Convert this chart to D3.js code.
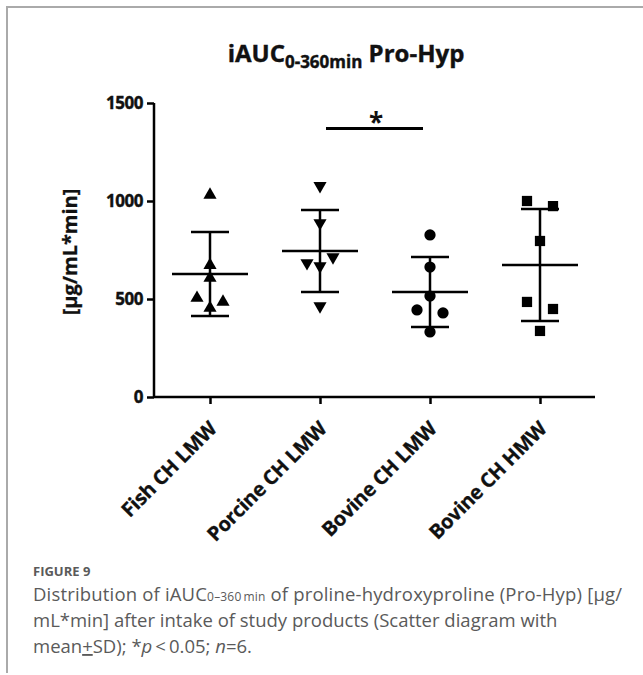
<!DOCTYPE html>
<html>
<head>
<meta charset="utf-8">
<script src="https://cdn.jsdelivr.net/npm/d3@7"></script>
<style>
	body { margin: 0; background: #fff; }
	svg { display: block; }
	.chart-text { font-family: "Open Sans", sans-serif; font-weight: bold; fill: #111; }
	.caption { font-family: "Open Sans", sans-serif; fill: #5a5a5a; }
</style>
</head>
<body>
<svg id="viz" width="643" height="675"></svg>
<script>

// Categories (groups on the x axis)
var groups = [ 'Fish CH LMW', 'Porcine CH LMW', 'Bovine CH LMW', 'Bovine CH HMW' ];

// Individual values per group
var fishValues = [ 1031, 673, 607, 505, 485, 454 ];
var porcineValues = [ 1077, 888, 684, 714, 668, 464 ];
var bovineLmwValues = [ 827, 663, 515, 444, 429, 332 ];
var bovineHmwValues = [ 1000, 974, 796, 485, 449, 337 ];

// Which side each point is nudged to (-1 left, 0 centre, 1 right)
var fishSlots = [ 0, 0, 0, -1, 1, 0 ];
var porcineSlots = [ 0, 0, -1, 1, 0, 0 ];
var bovineLmwSlots = [ 0, 0, 0, -1, 1, 0 ];
var bovineHmwSlots = [ -1, 1, 0, -1, 1, 0 ];

// Mean and SD, as drawn
var means = [ 627, 745, 536, 673 ];
var sdUpper = [ 842, 954, 714, 959 ];
var sdLower = [ 413, 536, 357, 388 ];

var yTicks = [ 0, 500, 1000, 1500 ];

var svg = d3.select( '#viz' );

// Figure frame (grey border on top and left)
svg.append( 'line' ).attr( 'x1', 6 ).attr( 'x2', 643 ).attr( 'y1', 7 ).attr( 'y2', 7 )
	.attr( 'stroke', '#aaa' ).attr( 'stroke-width', 2 );
svg.append( 'line' ).attr( 'x1', 7 ).attr( 'x2', 7 ).attr( 'y1', 6 ).attr( 'y2', 673 )
	.attr( 'stroke', '#aaa' ).attr( 'stroke-width', 2 );

var plot = { left: 154, right: 595, top: 103, bottom: 397 };

var y = d3.scaleLinear().domain( [ 0, 1500 ] ).range( [ plot.bottom, plot.top ] );
var x = d3.scalePoint().domain( groups ).range( [ 210, 540 ] );

// Y axis
var yAxis = svg.append( 'g' )
	.attr( 'transform', 'translate(' + plot.left + ',0)' )
	.call( d3.axisLeft( y ).tickValues( yTicks ).tickSize( 7 ).tickPadding( 4 ).tickFormat( d3.format( 'd' ) ) );
yAxis.select( '.domain' ).attr( 'stroke-width', 2.5 ).attr( 'd', 'M0,' + plot.top + 'V' + plot.bottom );
yAxis.selectAll( '.tick line' ).attr( 'stroke-width', 2.5 );
yAxis.selectAll( 'text' ).attr( 'class', 'chart-text' ).style( 'font-size', '17px' )
	.style( 'letter-spacing', '-0.5px' ).attr( 'fill', null ).attr( 'stroke', '#111' ).attr( 'stroke-width', 0.4 );

// X axis
var xAxis = svg.append( 'g' )
	.attr( 'transform', 'translate(0,' + plot.bottom + ')' )
	.call( d3.axisBottom( x ).tickSize( 7 ).tickFormat( '' ) );
xAxis.select( '.domain' ).attr( 'stroke-width', 2.5 ).attr( 'd', 'M' + plot.left + ',0H' + plot.right );
xAxis.selectAll( '.tick line' ).attr( 'stroke-width', 2.5 );

// Rotated category labels
svg.selectAll( 'text.xlabel' )
	.data( groups )
	.enter()
	.append( 'text' )
	.attr( 'class', 'chart-text xlabel' )
	.style( 'font-size', '20px' )
	.style( 'letter-spacing', '-0.3px' )
	.attr( 'stroke', '#111' ).attr( 'stroke-width', 0.3 )
	.attr( 'text-anchor', 'end' )
	.attr( 'transform', function ( d ) {
		return 'translate(' + ( x( d ) + 8 ) + ',' + ( plot.bottom + 33 ) + ') rotate(-45)';
	} )
	.text( function ( d ) { return d; } );

// Y axis title
svg.append( 'text' )
	.attr( 'class', 'chart-text' )
	.style( 'font-size', '20px' )
	.attr( 'stroke', '#111' ).attr( 'stroke-width', 0.3 )
	.attr( 'text-anchor', 'middle' )
	.attr( 'transform', 'translate(77,252) rotate(-90)' )
	.text( '[µg/mL*min]' );

// Chart title with subscript
var title = svg.append( 'text' )
	.attr( 'class', 'chart-text' )
	.attr( 'x', 346 )
	.attr( 'y', 62 )
	.attr( 'text-anchor', 'middle' )
	.attr( 'stroke', '#111' ).attr( 'stroke-width', 0.4 )
	.style( 'font-size', '24px' );
title.append( 'tspan' ).text( 'iAUC' );
title.append( 'tspan' ).attr( 'dy', 6 ).style( 'font-size', '17px' ).text( '0-360min' );
title.append( 'tspan' ).attr( 'dy', -6 ).text( ' Pro-Hyp' );

// Points
var allValues = [ fishValues, porcineValues, bovineLmwValues, bovineHmwValues ];
var allSlots = [ fishSlots, porcineSlots, bovineLmwSlots, bovineHmwSlots ];
var shapes = [
	{ type: d3.symbolTriangle, size: 75, rotate: 0 },
	{ type: d3.symbolTriangle, size: 75, rotate: 180 },
	{ type: d3.symbolCircle, size: 100, rotate: 0 },
	{ type: d3.symbolSquare, size: 105, rotate: 0 }
];
var slotWidth = 13;

groups.forEach( function ( g, gi ) {

	var shape = shapes[gi];
	var points = allValues[gi].map( function ( v, i ) {
		return { value: v, slot: allSlots[gi][i] };
	} );

	svg.selectAll( 'path.pt-' + gi )
		.data( points )
		.enter()
		.append( 'path' )
		.attr( 'class', 'pt-' + gi )
		.attr( 'd', d3.symbol().type( shape.type ).size( shape.size ) )
		.attr( 'fill', '#000' )
		.attr( 'transform', function ( d ) {
			return 'translate(' + ( x( g ) + d.slot * slotWidth ) + ',' + y( d.value ) + ') rotate(' + shape.rotate + ')';
		} );

	var cx = x( g );
	var bar = svg.append( 'g' ).attr( 'stroke', '#000' ).attr( 'stroke-width', 2.5 );

	// vertical SD whisker
	bar.append( 'line' ).attr( 'x1', cx ).attr( 'x2', cx ).attr( 'y1', y( sdUpper[gi] ) ).attr( 'y2', y( sdLower[gi] ) );
	// SD caps
	bar.append( 'line' ).attr( 'x1', cx - 19 ).attr( 'x2', cx + 19 ).attr( 'y1', y( sdUpper[gi] ) ).attr( 'y2', y( sdUpper[gi] ) );
	bar.append( 'line' ).attr( 'x1', cx - 19 ).attr( 'x2', cx + 19 ).attr( 'y1', y( sdLower[gi] ) ).attr( 'y2', y( sdLower[gi] ) );
	// mean line
	bar.append( 'line' ).attr( 'x1', cx - 38 ).attr( 'x2', cx + 38 ).attr( 'y1', y( means[gi] ) ).attr( 'y2', y( means[gi] ) );

} );

// Significance bracket between Porcine and Bovine LMW
var sigY = y( 1370 );
svg.append( 'line' )
	.attr( 'x1', x( groups[1] ) + 6 ).attr( 'x2', x( groups[2] ) - 7 )
	.attr( 'y1', sigY ).attr( 'y2', sigY )
	.attr( 'stroke', '#000' ).attr( 'stroke-width', 3 );
svg.append( 'text' )
	.attr( 'class', 'chart-text' )
	.attr( 'x', ( x( groups[1] ) + x( groups[2] ) ) / 2 + 1 )
	.attr( 'y', sigY + 4 )
	.attr( 'text-anchor', 'middle' )
	.style( 'font-size', '26px' )
	.text( '*' );

// Caption
svg.append( 'text' )
	.attr( 'class', 'caption' )
	.attr( 'x', 33 ).attr( 'y', 576 )
	.style( 'font-size', '13px' ).style( 'font-weight', 'bold' ).attr( 'fill', '#8c8c8c' )
	.text( 'FIGURE 9' );

var cap1 = svg.append( 'text' ).attr( 'class', 'caption' ).attr( 'x', 33 ).attr( 'y', 601 )
	.style( 'font-size', '18.5px' ).attr( 'textLength', 589 );
cap1.append( 'tspan' ).text( 'Distribution of iAUC' );
cap1.append( 'tspan' ).style( 'font-size', '12px' ).text( '0\u2013360\u2009min' );
cap1.append( 'tspan' ).text( ' of proline-hydroxyproline (Pro-Hyp) [µg/' );

svg.append( 'text' ).attr( 'class', 'caption' ).attr( 'x', 33 ).attr( 'y', 627 ).style( 'font-size', '18.5px' )
	.text( 'mL*min] after intake of study products (Scatter diagram with' );

var cap3 = svg.append( 'text' ).attr( 'class', 'caption' ).attr( 'x', 33 ).attr( 'y', 653 ).style( 'font-size', '18.5px' );
cap3.append( 'tspan' ).text( 'mean' );
cap3.append( 'tspan' ).style( 'text-decoration', 'underline' ).text( '+' );
cap3.append( 'tspan' ).text( 'SD); *' );
cap3.append( 'tspan' ).style( 'font-style', 'italic' ).text( 'p' );
cap3.append( 'tspan' ).text( '\u2009<\u20090.05; ' );
cap3.append( 'tspan' ).style( 'font-style', 'italic' ).text( 'n' );
cap3.append( 'tspan' ).text( '=6.' );

</script>
</body>
</html>
